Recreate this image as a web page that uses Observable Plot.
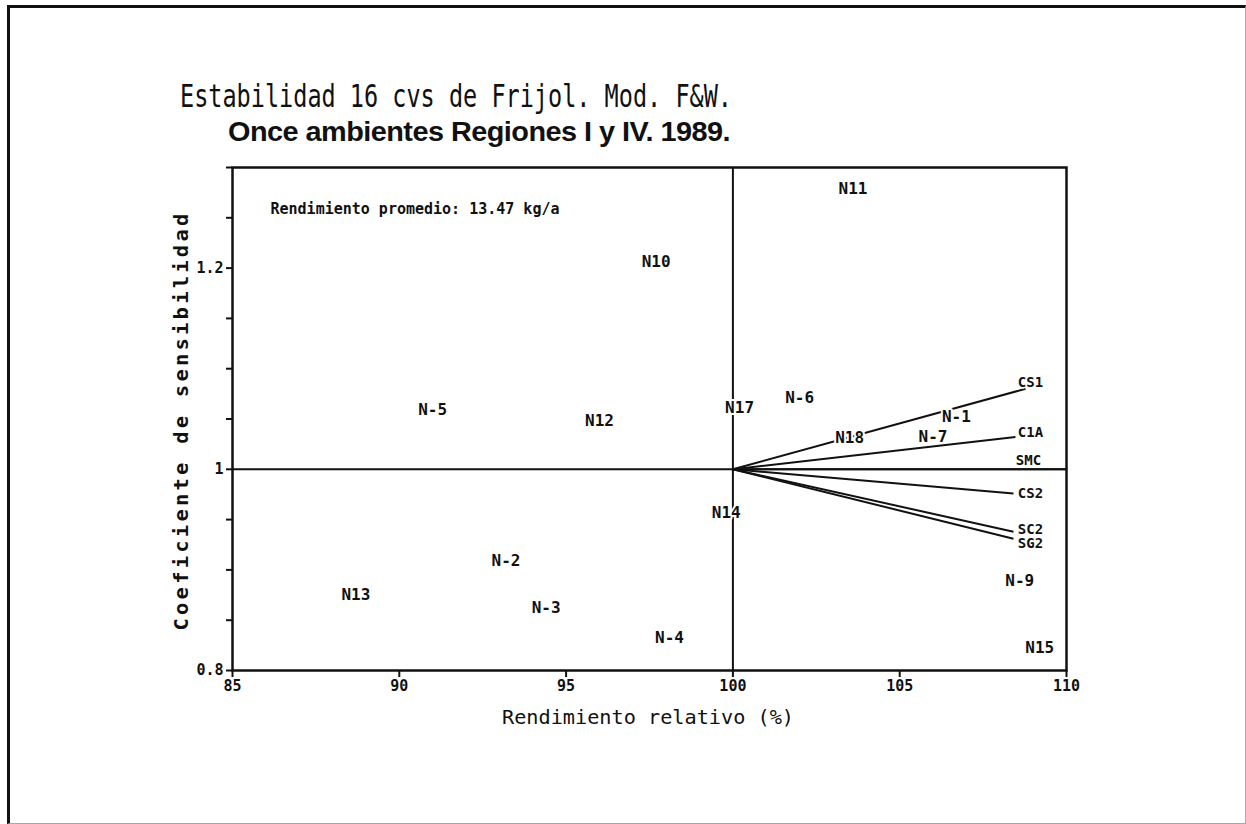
<!DOCTYPE html>
<html><head><meta charset="utf-8">
<script src="https://cdn.jsdelivr.net/npm/d3@7"></script>
<script src="https://cdn.jsdelivr.net/npm/@observablehq/plot@0.6"></script>
<style>
html,body{margin:0;padding:0;background:#fff;overflow:hidden;}
#wrap{position:relative;width:1246px;height:824px;}
#plot{position:absolute;left:0;top:0;}
.t{position:absolute;white-space:nowrap;color:#111;transform-origin:0 0;line-height:1;}
#border{position:absolute;left:7px;top:5px;width:1235px;height:815px;border-left:3px solid #111;border-top:3px solid #111;border-right:1px solid #aaa;border-bottom:1px solid #aaa;pointer-events:none;z-index:3;}
</style></head><body><div id="wrap"><div id="plot"></div><div id="border"></div></div>
<script>
// ---- data ----
const titleLine1 = "Estabilidad 16 cvs de Frijol. Mod. F&W.";
const titleLine2 = "Once ambientes Regiones I y IV. 1989.";
const xLabel = "Rendimiento relativo (%)";
const yLabel = "Coeficiente de sensibilidad";
const note = "Rendimiento promedio: 13.47 kg/a";

const cultivars   = ["N11","N10","N-5","N12","N17","N-6","N-1","N18","N-7","N14","N-2","N13","N-3","N-4","N-9","N15"];
const rendimiento = [103.6, 97.7, 91.0, 96.0, 100.2, 102.0, 106.7, 103.5, 106.0, 99.8, 93.2, 88.7, 94.4, 98.1, 108.6, 109.2];
const coeficiente = [1.279, 1.206, 1.059, 1.048, 1.061, 1.071, 1.052, 1.031, 1.032, 0.957, 0.909, 0.875, 0.862, 0.832, 0.889, 0.822];

const lineNames  = ["CS1","C1A","SMC","CS2","SC2","SG2"];
const lineStartX = [100, 100, 100, 100, 100, 100];
const lineStartY = [1, 1, 1, 1, 1, 1];
const lineEndX   = [108.77, 108.47, 110, 108.41, 108.41, 108.41];
const lineEndY   = [1.080, 1.032, 1.0, 0.976, 0.938, 0.931];
const lineLabelX = [108.92, 108.92, 108.86, 108.92, 108.92, 108.92];
const lineLabelY = [1.0865, 1.037, 1.009, 0.976, 0.940, 0.926];

const xTicks = [85, 90, 95, 100, 105, 110];
const yTicksMinor = [0.8, 0.85, 0.9, 0.95, 1.0, 1.05, 1.1, 1.15, 1.2, 1.25, 1.3];
const yTicksLabeled = [0.8, 1.0, 1.2];
const xDomain = [85, 110];
const yDomain = [0.8, 1.3];

// ---- build tables ----
const points = cultivars.map((n, i) => ({name: n, x: rendimiento[i], y: coeficiente[i]}));
const lines = lineNames.map((n, i) => ({name: n, x1: lineStartX[i], y1: lineStartY[i], x2: lineEndX[i], y2: lineEndY[i], lx: lineLabelX[i], ly: lineLabelY[i]}));

const ink = "#111";
const plot = Plot.plot({
  width: 1246, height: 824,
  marginLeft: 232, marginRight: 180, marginTop: 167, marginBottom: 154,
  style: {fontFamily: "'DejaVu Sans Mono', monospace", fontWeight: "bold", fontSize: "15px", color: ink, background: "transparent"},
  x: {domain: xDomain},
  y: {domain: yDomain},
  marks: [
    Plot.ruleY([1], {stroke: ink, strokeWidth: 2}),
    Plot.ruleX([100], {stroke: ink, strokeWidth: 2}),
    Plot.link(lines, {x1: "x1", y1: "y1", x2: "x2", y2: "y2", stroke: ink, strokeWidth: 2}),
    Plot.text(points, {x: "x", y: "y", text: "name", fontSize: 16, fontWeight: "bold", fill: ink, stroke: "white", strokeWidth: 4, paintOrder: "stroke"}),
    Plot.text(lines, {x: "lx", y: "ly", text: "name", fontSize: 14, fontWeight: "bold", fill: ink, stroke: "white", strokeWidth: 3, paintOrder: "stroke"}),
    Plot.text([note], {frameAnchor: "top-left", dx: 38, dy: 36, textAnchor: "start", fontSize: 15, fontWeight: "bold", fill: ink}),
    Plot.axisX({ticks: xTicks, tickSize: 7, tickPadding: 3, label: null, stroke: ink, strokeWidth: 2, fontSize: 15}),
    Plot.axisY({ticks: yTicksMinor, tickSize: 6, tickFormat: () => "", label: null, stroke: ink, strokeWidth: 2}),
    Plot.axisY({ticks: yTicksLabeled, tickSize: 0, tickPadding: 9, tickFormat: d => d3.format("~g")(d), label: null, fontSize: 15}),
    Plot.frame({stroke: ink, strokeWidth: 2.5})
  ]
});
document.getElementById("plot").appendChild(plot);

// ---- HTML texts ----
const wrap = document.getElementById("wrap");
function addText(str, css) {
  const el = document.createElement("div");
  el.className = "t";
  el.textContent = str;
  Object.assign(el.style, css);
  wrap.appendChild(el);
  return el;
}
function fitLeft(el, left, top, width) {
  const w = el.getBoundingClientRect().width;
  el.style.left = left + "px"; el.style.top = top + "px";
  el.style.transform = `scaleX(${width / w})`;
}
function fitCenter(el, cx, top, width) {
  const w = el.getBoundingClientRect().width;
  el.style.left = (cx - width / 2) + "px"; el.style.top = top + "px";
  el.style.transform = `scaleX(${width / w})`;
}
const t1 = addText(titleLine1, {fontFamily: "'DejaVu Sans Mono'", fontSize: "32px", fontWeight: "normal"});
fitLeft(t1, 180, 80, 552);
const t2 = addText(titleLine2, {fontFamily: "'Liberation Sans'", fontSize: "27px", fontWeight: "bold", letterSpacing: "-0.5px"});
fitLeft(t2, 228, 119, 502);
const xl = addText(xLabel, {fontFamily: "'DejaVu Sans Mono'", fontSize: "19px"});
fitCenter(xl, 648, 708, 292);
const yl = addText(yLabel, {fontFamily: "'DejaVu Sans Mono'", fontSize: "19px", fontWeight: "bold", letterSpacing: "3px", transformOrigin: "50% 50%"});
{
  const r = yl.getBoundingClientRect();
  const s = 420 / r.width;
  yl.style.left = (182 - r.width / 2) + "px";
  yl.style.top = (420 - r.height / 2) + "px";
  yl.style.transform = `rotate(-90deg) scaleX(${s})`;
}
</script>
</body></html>
